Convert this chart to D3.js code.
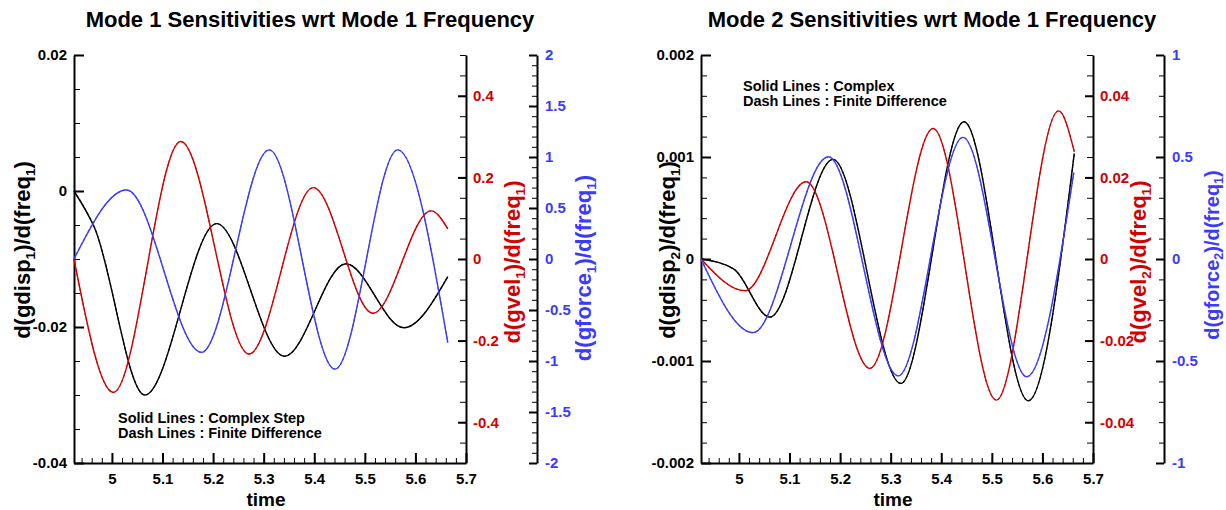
<!DOCTYPE html>
<html><head><meta charset="utf-8">
<script src="https://cdn.jsdelivr.net/npm/d3@7"></script>
<style>
body{margin:0;background:#fff;}
svg text{font-family:"Liberation Sans", Arial, sans-serif;font-weight:bold;}
</style></head><body>
<svg id="c" width="1226" height="510"></svg>
<script>
// ---------- data ----------
const timeDomain = [4.925, 5.7];
const timeTicks = [5, 5.1, 5.2, 5.3, 5.4, 5.5, 5.6, 5.7];

const m1DispTicks = [0.02, 0, -0.02, -0.04];
const m1VelTicks = [0.4, 0.2, 0, -0.2, -0.4];
const m1ForceTicks = [2, 1.5, 1, 0.5, 0, -0.5, -1, -1.5, -2];
const m2DispTicks = [0.002, 0.001, 0, -0.001, -0.002];
const m2VelTicks = [0.04, 0.02, 0, -0.02, -0.04];
const m2ForceTicks = [1, 0.5, 0, -0.5, -1];

// Mode 1 panel
const m1DispT = [4.925, 4.965, 5.065, 5.207, 5.341, 5.4625, 5.577, 5.664];
const m1DispV = [0, -0.0053, -0.0300, -0.0048, -0.0243, -0.0107, -0.0201, -0.0126];
const m1VelT = [4.925, 5.003, 5.136, 5.271, 5.398, 5.516, 5.631, 5.664];
const m1VelV = [0.0, -0.327, 0.288, -0.233, 0.175, -0.133, 0.118, 0.074];
const m1ForceT = [4.925, 5.029, 5.177, 5.311, 5.441, 5.565, 5.664];
const m1ForceV = [0.0, 0.676, -0.915, 1.07, -1.08, 1.07, -0.82];

// Mode 2 panel
const m2DispT = [4.925, 4.99, 5.061, 5.186, 5.320, 5.445, 5.572, 5.663];
const m2DispV = [0, -0.0001, -0.00057, 0.000977, -0.00122, 0.001346, -0.00139, 0.001036];
const m2VelT = [4.925, 5.012, 5.133, 5.259, 5.384, 5.509, 5.632, 5.663];
const m2VelV = [0, -0.00777, 0.01895, -0.0268, 0.032, -0.0346, 0.0363, 0.0263];
const m2ForceT = [4.925, 5.028, 5.177, 5.315, 5.443, 5.569, 5.662];
const m2ForceV = [0, -0.361, 0.501, -0.573, 0.596, -0.577, 0.423];

// ---------- drawing ----------
const RED = "#d40000", BLUE = "#3b3bff", BLACK = "#000";
const svg = d3.select("#c");
const fmt = d => String(d);

function rich(sel, parts, size) {
  let shifted = false;
  parts.forEach(([s, sub]) => {
    const t = sel.append("tspan").text(s);
    if (sub) { t.attr("font-size", size * 0.62).attr("dy", size * 0.22); shifted = true; }
    else if (shifted) { t.attr("dy", -size * 0.22); shifted = false; }
  });
}

function panel(cfg) {
  const {x0, x1, y0, y1, blueX} = cfg;
  const x = d3.scaleLinear(timeDomain, [x0, x1]);
  const yK = d3.scaleLinear(cfg.kDom, [y1, y0]);
  const yR = d3.scaleLinear(cfg.rDom, [y1, y0]);
  const yB = d3.scaleLinear(cfg.bDom, [y1, y0]);
  const g = svg.append("g");

  const styleAxis = (a, color) => {
    a.selectAll(".domain").attr("stroke", "#000").attr("stroke-width", 2);
    a.selectAll(".tick line").attr("stroke", "#000").attr("stroke-width", 2);
    a.selectAll("text").attr("fill", color).attr("font-size", 15).attr("font-family", null);
  };
  const minorAxis = (axisFn, scale, vals, len, tx, ty) => {
    const a = g.append("g").attr("transform", `translate(${tx},${ty})`)
      .call(axisFn(scale).tickValues(vals).tickFormat("").tickSizeInner(len).tickSizeOuter(0));
    a.selectAll(".domain").remove();
    a.selectAll(".tick line").attr("stroke", "#000").attr("stroke-width", 1);
  };

  // minor ticks
  minorAxis(d3.axisBottom, x, d3.range(4.94, 5.7001, 0.02), -5, 0, y1);
  minorAxis(d3.axisLeft, yK, cfg.kMinor, -6, x0, 0);
  minorAxis(d3.axisRight, yR, cfg.rMinor, -6, x1, 0);
  minorAxis(d3.axisRight, yB, cfg.bMinor, -5, blueX, 0);

  // major axes
  const ax = g.append("g").attr("transform", `translate(0,${y1})`)
    .call(d3.axisBottom(x).tickValues(timeTicks).tickFormat(fmt).tickSizeInner(-10).tickSizeOuter(0).tickPadding(10));
  styleAxis(ax, BLACK);
  const ak = g.append("g").attr("transform", `translate(${x0},0)`)
    .call(d3.axisLeft(yK).tickValues(cfg.kTicks).tickFormat(fmt).tickSizeInner(-10).tickSizeOuter(0).tickPadding(7));
  styleAxis(ak, BLACK);
  const ar = g.append("g").attr("transform", `translate(${x1},0)`)
    .call(d3.axisRight(yR).tickValues(cfg.rTicks).tickFormat(fmt).tickSizeInner(-8).tickSizeOuter(0).tickPadding(7));
  styleAxis(ar, RED);
  const ab = g.append("g").attr("transform", `translate(${blueX},0)`)
    .call(d3.axisRight(yB).tickValues(cfg.bTicks).tickFormat(fmt).tickSizeInner(-8).tickSizeOuter(0).tickPadding(8));
  styleAxis(ab, BLUE);

  // curves: solid (complex step) and dashed (finite difference)
  const series = [
    [cfg.kT, cfg.kV, yK, BLACK],
    [cfg.rT, cfg.rV, yR, RED],
    [cfg.bT, cfg.bV, yB, BLUE]
  ];
  series.forEach(([T, V, ys, col]) => {
    const pts = T.map((t, i) => [t, V[i]]);
    const line = d3.line().x(d => x(d[0])).y(d => ys(d[1])).curve(d3.curveMonotoneX);
    g.append("path").attr("d", line(pts)).attr("fill", "none").attr("stroke", col).attr("stroke-width", 1.4);
    g.append("path").attr("d", line(pts)).attr("fill", "none").attr("stroke", col)
      .attr("stroke-width", 1.2).attr("stroke-dasharray", "3,2").attr("opacity", 0.8);
  });

  // titles
  g.append("text").attr("x", cfg.titleX).attr("y", 27).attr("text-anchor", "middle")
    .attr("font-size", 22).text(cfg.title);
  g.append("text").attr("x", (x0 + x1) / 2 - 4).attr("y", 506).attr("text-anchor", "middle")
    .attr("font-size", 19).text("time");

  const axTitle = (cx, cy, parts, color, size) => {
    const t = g.append("text").attr("transform", `translate(${cx},${cy}) rotate(-90)`)
      .attr("text-anchor", "middle").attr("dy", "0.35em").attr("font-size", size).attr("fill", color);
    rich(t, parts, size);
  };
  axTitle(cfg.kLabX, 250, cfg.kLab, BLACK, 22);
  axTitle(cfg.rLabX, 262, cfg.rLab, RED, 22);
  axTitle(cfg.bLabX, cfg.bLabY, cfg.bLab, BLUE, cfg.bLabSize);

  // note
  cfg.note.forEach((s, i) => {
    g.append("text").attr("x", cfg.noteX).attr("y", cfg.noteY + i * 15)
      .attr("font-size", 14.5).text(s);
  });
}

panel({
  x0: 74, x1: 466, y0: 55, y1: 463, blueX: 537,
  kDom: [-0.04, 0.02], rDom: [-0.5, 0.5], bDom: [-2, 2],
  kTicks: m1DispTicks, rTicks: m1VelTicks, bTicks: m1ForceTicks,
  kMinor: d3.range(-0.04, 0.0201, 0.005), rMinor: d3.range(-0.5, 0.5001, 0.05), bMinor: d3.range(-2, 2.0001, 0.1),
  kT: m1DispT, kV: m1DispV, rT: m1VelT, rV: m1VelV, bT: m1ForceT, bV: m1ForceV,
  title: "Mode 1 Sensitivities wrt Mode 1 Frequency", titleX: 310,
  kLabX: 22, rLabX: 512, bLabX: 583, bLabY: 268, bLabSize: 22,
  kLab: [["d(gdisp", 0], ["1", 1], [")/d(freq", 0], ["1", 1], [")", 0]],
  rLab: [["d(gvel", 0], ["1", 1], [")/d(freq", 0], ["1", 1], [")", 0]],
  bLab: [["d(gforce", 0], ["1", 1], [")/d(freq", 0], ["1", 1], [")", 0]],
  note: ["Solid Lines : Complex Step", "Dash Lines : Finite Difference"], noteX: 118, noteY: 423
});

panel({
  x0: 701, x1: 1093, y0: 55, y1: 463, blueX: 1164,
  kDom: [-0.002, 0.002], rDom: [-0.05, 0.05], bDom: [-1, 1],
  kTicks: m2DispTicks, rTicks: m2VelTicks, bTicks: m2ForceTicks,
  kMinor: d3.range(-0.002, 0.00201, 0.0002), rMinor: d3.range(-0.05, 0.05001, 0.005), bMinor: d3.range(-1, 1.0001, 0.1),
  kT: m2DispT, kV: m2DispV, rT: m2VelT, rV: m2VelV, bT: m2ForceT, bV: m2ForceV,
  title: "Mode 2 Sensitivities wrt Mode 1 Frequency", titleX: 932,
  kLabX: 667, rLabX: 1138, bLabX: 1212, bLabY: 255, bLabSize: 20,
  kLab: [["d(gdisp", 0], ["2", 1], [")/d(freq", 0], ["1", 1], [")", 0]],
  rLab: [["d(gvel", 0], ["2", 1], [")/d(freq", 0], ["1", 1], [")", 0]],
  bLab: [["d(gforce", 0], ["2", 1], [")/d(freq", 0], ["1", 1], [")", 0]],
  note: ["Solid Lines : Complex", "Dash Lines : Finite Difference"], noteX: 743, noteY: 91
});
</script>
</body></html>
